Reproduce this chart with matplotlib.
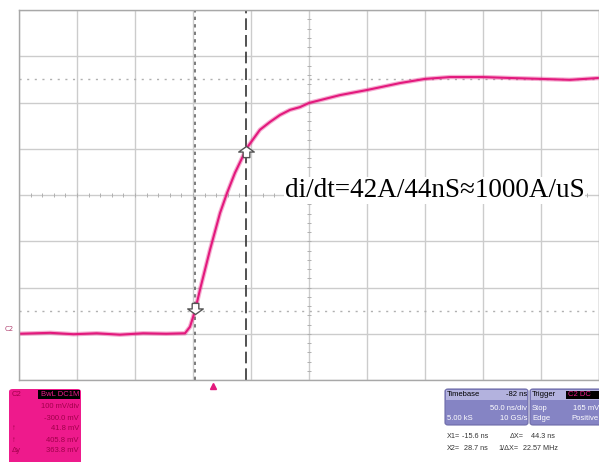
import numpy as np
import matplotlib.pyplot as plt
from matplotlib.patches import FancyBboxPatch, Rectangle
from matplotlib.transforms import blended_transform_factory

# scope trace (time in ns, level in mV)
time_ns = [-167, -140, -120, -100, -80, -60, -40, -23.9, -19.6, -15.3, -11.0, -2.4, 6.3,
           12.3, 19.2, 29.5, 33.8, 40.7, 49.4, 58.0, 66.6, 75.2, 83.0, 109.7, 133.0,
           161.4, 183.0, 204.5, 233.0, 256.2, 283.0, 308.0, 333.0]
trace_mv = [0, 2, -1, 1, -2, 1, 0, 1, 15, 49, 95, 181, 261,
            304, 348, 402, 417, 441, 458, 473, 484, 490, 499, 516, 527,
            542, 551, 555, 555, 553, 551, 549, 553]

x1_ns, x2_ns = -15.6, 28.7
y1_mv, y2_mv = 41.8, 405.8
dotted_levels = [50, 550]

ch_rows = ["100 mV/div", "-300.0 mV", "41.8 mV", "405.8 mV", "363.8 mV"]
ch_tags = ["", "", "\u2191", "\u2191", "\u0394y"]

pink = '#e3197d'
W, H = 599, 462


def fx(px):
    return px / W


def fy(py):
    return 1 - py / H


fig = plt.figure(figsize=(W / 100, H / 100), dpi=100)
ax = fig.add_axes([fx(19), fy(380), fx(599) - fx(19), fy(10) - fy(380)])
ax.set_xlim(-167, 333)
ax.set_ylim(-100, 700)
ax.set_xticks(np.arange(-167, 334, 50))
ax.set_yticks(np.arange(-100, 701, 100))
ax.tick_params(length=0, labelbottom=False, labelleft=False)
ax.grid(True, color='#cccccc', lw=1)
for s in ax.spines.values():
    s.set_color('#a8a8a8')
    s.set_linewidth(1)

# minor ticks on the centre axes
xc, yc = 83, 300
xm = np.arange(-167, 334, 10)
ym = np.arange(-100, 701, 20)
ax.plot(xm, [yc] * len(xm), ls='none', marker='|', ms=3, color='#b0b0b0', mew=0.7)
ax.plot([xc] * len(ym), ym, ls='none', marker='_', ms=3, color='#b0b0b0', mew=0.7)

for lv in dotted_levels:
    ax.axhline(lv, color='#b0b0b0', lw=1, ls=(0, (1.5, 4)))

# cursors
ax.axvline(x1_ns, color='#666666', lw=1.2, ls=(0, (2, 2.5)))
ax.axvline(x2_ns, color='#333333', lw=1.2, ls=(0, (7, 3)))

# trace
ax.plot(time_ns, trace_mv, color=pink, lw=3.2, alpha=0.35, solid_capstyle='butt')
ax.plot(time_ns, trace_mv, color=pink, lw=1.5)

# cursor arrows
arrow_down = [(-0.3, 1), (0.3, 1), (0.3, 0.5), (0.7, 0.5), (0, 0), (-0.7, 0.5),
              (-0.3, 0.5), (-0.3, 1)]
arrow_up = [(x, -y) for x, y in arrow_down]
ax.plot([x1_ns], [y1_mv], marker=arrow_down, ms=16, mfc='white', mec='#555555', mew=1)
ax.plot([x2_ns], [y2_mv], marker=arrow_up, ms=16, mfc='white', mec='#555555', mew=1)

ax.text(62, 296, 'di/dt=42A/44nS\u22481000A/uS', fontsize=19.5, va='baseline',
        family=['Liberation Serif', 'DejaVu Serif'], color='black',
        bbox=dict(facecolor='white', edgecolor='none', pad=0.5))

# trigger marker
tr = blended_transform_factory(ax.transData, ax.transAxes)
ax.plot([0], [-0.015], marker='^', ms=5, color=pink, transform=tr, clip_on=False)

fig.text(fx(5), fy(329), 'C2', fontsize=5, color='#b04070', va='center')

# channel box
fig.patches.append(FancyBboxPatch((fx(9), fy(470)), fx(72), fy(389) - fy(470),
                                  boxstyle='round,pad=0,rounding_size=0.006',
                                  transform=fig.transFigure, facecolor='#ee1a8c',
                                  edgecolor='none'))
fig.patches.append(Rectangle((fx(38), fy(399)), fx(42), fy(390) - fy(399),
                             transform=fig.transFigure, facecolor='black'))
txt = dict(fontsize=5.5, family='Liberation Sans', va='center')
fig.text(fx(12), fy(395), 'C2', color='#a0004a', **txt)
fig.text(fx(79), fy(395), 'BwL DC1M', color='#ee1a8c', ha='right', **txt)
for i, (row, tag) in enumerate(zip(ch_rows, ch_tags)):
    yy = fy(407 + i * 11)
    fig.text(fx(79), yy, row, color='#a0004a', ha='right', **txt)
    if tag:
        fig.text(fx(12), yy, tag, color='#a0004a', **txt)

# timebase and trigger boxes
for x0, w in [(445, 83), (530, 72)]:
    fig.patches.append(FancyBboxPatch((fx(x0), fy(425)), fx(w), fy(389) - fy(425),
                                      boxstyle='round,pad=0,rounding_size=0.005',
                                      transform=fig.transFigure, facecolor='#8584c4',
                                      edgecolor='#6c6aa8', lw=0.8))
    fig.patches.append(Rectangle((fx(x0 + 1), fy(400)), fx(w - 2), fy(390) - fy(400),
                                 transform=fig.transFigure, facecolor='#b3b2de'))
fig.patches.append(Rectangle((fx(566), fy(399)), fx(33), fy(391) - fy(399),
                             transform=fig.transFigure, facecolor='black'))

fig.text(fx(447), fy(395), 'Timebase', color='black', **txt)
fig.text(fx(527), fy(395), '-82 ns', color='black', ha='right', **txt)
fig.text(fx(527), fy(408), '50.0 ns/div', color='white', ha='right', **txt)
fig.text(fx(447), fy(418), '5.00 kS', color='white', **txt)
fig.text(fx(527), fy(418), '10 GS/s', color='white', ha='right', **txt)

fig.text(fx(532), fy(395), 'Trigger', color='black', **txt)
fig.text(fx(568), fy(395), 'C2 DC', color='#ee1a8c', **txt)
fig.text(fx(532), fy(408), 'Stop', color='white', **txt)
fig.text(fx(599), fy(408), '165 mV', color='white', ha='right', **txt)
fig.text(fx(532), fy(418), 'Edge', color='white', **txt)
fig.text(fx(599), fy(418), 'Positive', color='white', ha='right', **txt)

# cursor readout
rd = dict(fontsize=5.2, family='Liberation Sans', va='center', color='#333333')
fig.text(fx(447), fy(436), 'X1=', **rd)
fig.text(fx(488), fy(436), '-15.6 ns', ha='right', **rd)
fig.text(fx(524), fy(436), '\u0394X=', ha='right', **rd)
fig.text(fx(555), fy(436), '44.3 ns', ha='right', **rd)
fig.text(fx(447), fy(448), 'X2=', **rd)
fig.text(fx(488), fy(448), '28.7 ns', ha='right', **rd)
fig.text(fx(519), fy(448), '1/\u0394X=', ha='right', **rd)
fig.text(fx(558), fy(448), '22.57 MHz', ha='right', **rd)

fig.savefig('out.png', dpi=100)
